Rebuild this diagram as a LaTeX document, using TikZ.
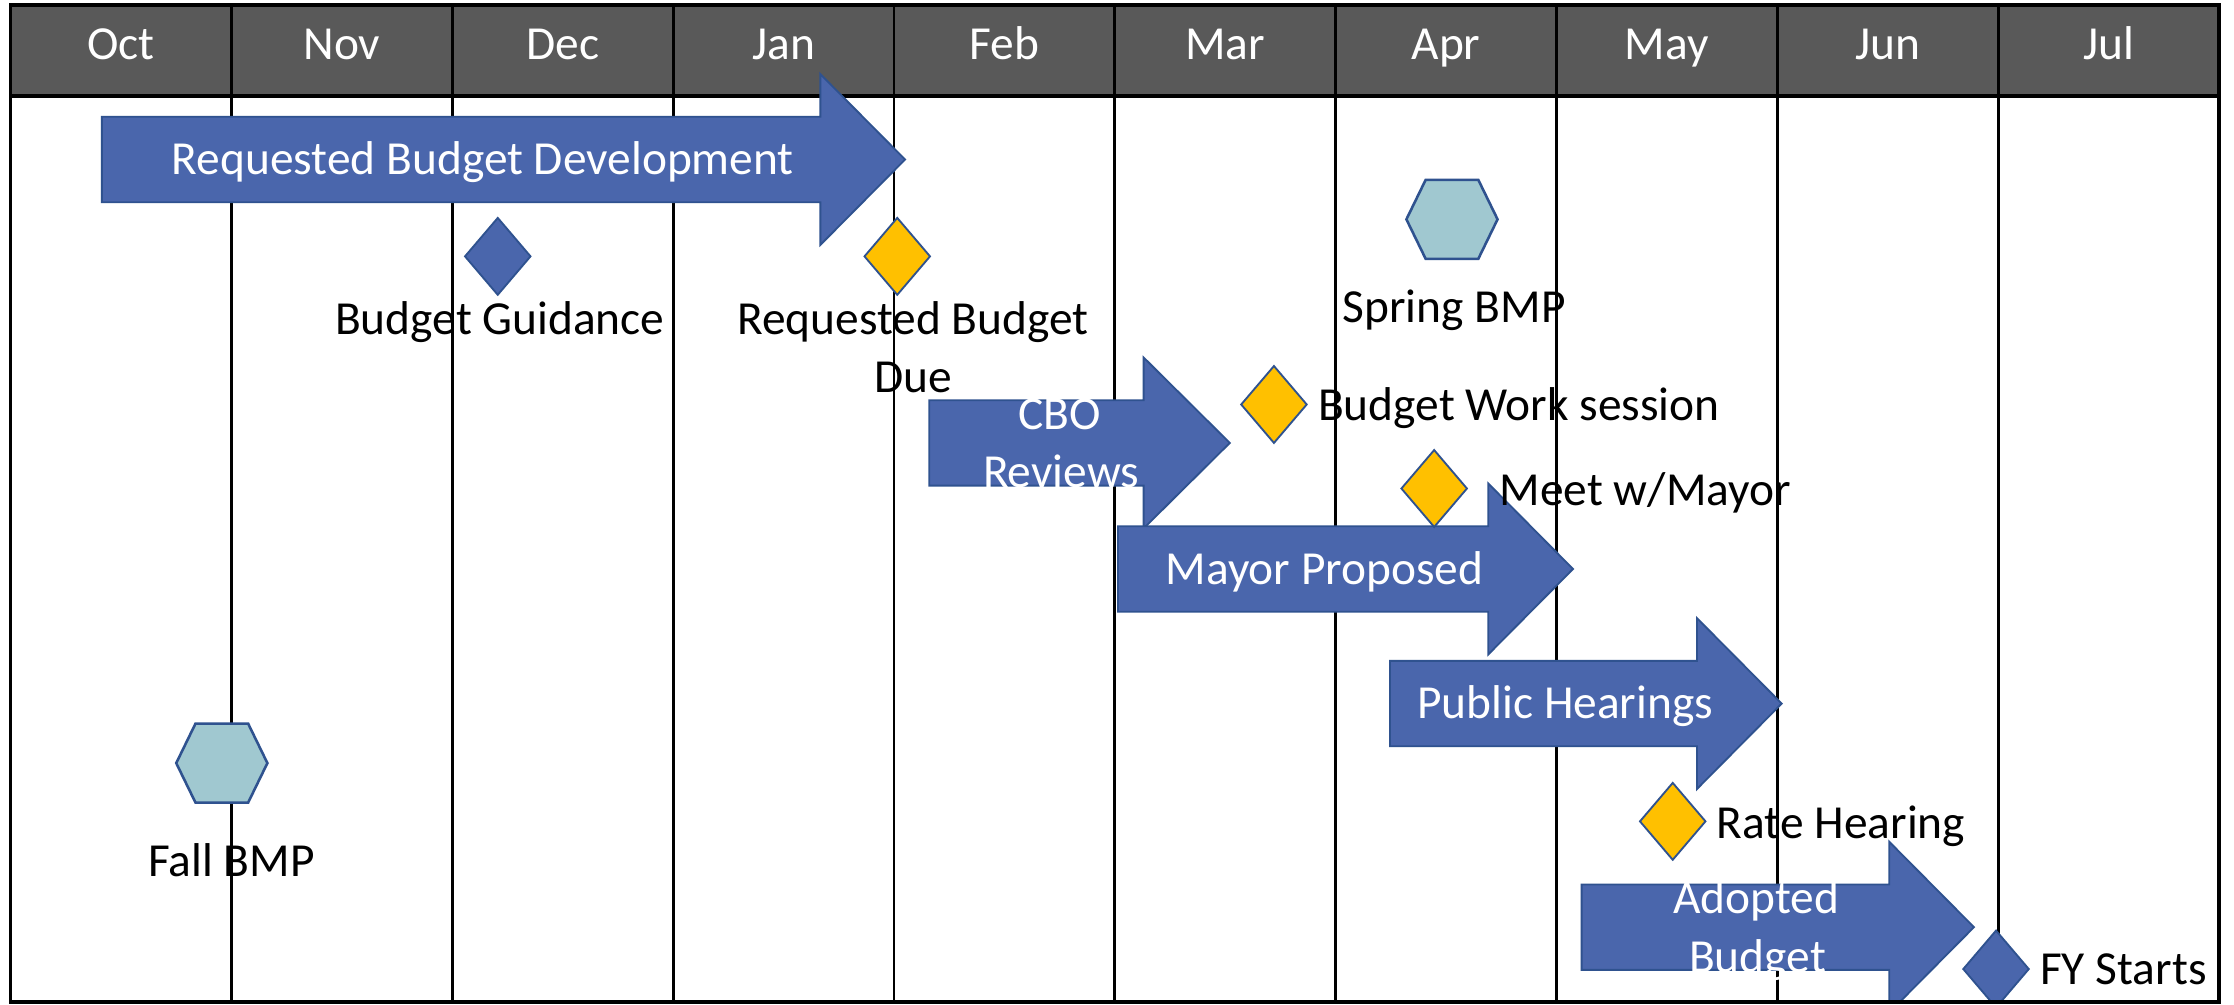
\documentclass[tikz,border=0pt]{standalone}
\usepackage{fontspec}
\setmainfont{Carlito}
\definecolor{hdr}{HTML}{595959}
\definecolor{abl}{HTML}{4A66AC}
\definecolor{aln}{HTML}{2F528F}
\definecolor{ylw}{HTML}{FFC000}
\definecolor{hexc}{HTML}{A0C8D0}
\newcommand\blockarrow[4]{% left, head base, tip, middle y
  \draw[arrowshape] (#1,{#4-30}) -- (#2,{#4-30}) -- (#2,{#4-60}) -- (#3,#4) -- (#2,{#4+60}) -- (#2,{#4+30}) -- (#1,{#4+30}) -- cycle;}
\newcommand\milestone[3]{% x, y, style
  \draw[#3] ({#1-23},#2) -- (#1,{#2-27}) -- ({#1+23},#2) -- (#1,{#2+27}) -- cycle;}
\newcommand\hexmark[2]{%
  \draw[hexshape] ({#1-32},#2) -- ({#1-18.5},{#2-27.7}) -- ({#1+18.5},{#2-27.7}) -- ({#1+32},#2) -- ({#1+18.5},{#2+27.7}) -- ({#1-18.5},{#2+27.7}) -- cycle;}
\tikzset{
  lbl/.style={anchor=base, inner sep=0pt, outer sep=0pt, font=\fontsize{33.3}{40}\selectfont, text=black},
  wlbl/.style={lbl, text=white},
  llbl/.style={lbl, anchor=base west},
  arrowshape/.style={fill=abl, draw=aln, line width=1.3pt, line join=miter},
  bluems/.style={fill=abl, draw=aln, line width=1.3pt},
  yellowms/.style={fill=ylw, draw=aln, line width=1.3pt},
  hexshape/.style={fill=hexc, draw=aln, line width=1.8pt},
  gridline/.style={line width=2pt, black},
  frameline/.style={line width=2.5pt, black}
}
\begin{document}
\begin{tikzpicture}[x=1pt, y=-1pt]
\useasboundingbox (0,0) rectangle (1568.6,704.97);
\fill[white] (0,0) rectangle (1568.6,704.97);
% header
\fill[hdr] (7.5,3.5) rectangle (1558,67.5);
\foreach \i in {1,...,9} \draw[gridline] ({7.5+155.05*\i},3.5) -- ({7.5+155.05*\i},703.5);
\draw[frameline] (7.5,67.5) -- (1558,67.5);
\draw[frameline] (7.5,3.5) rectangle (1558,703.5);
\foreach \m [count=\i] in {Oct,Nov,Dec,Jan,Feb,Mar,Apr,May,Jun,Jul}
  \node[wlbl] (h\i) at ({7.5+155.05*(\i-0.5)},42.1) {\m};
% shapes
\begin{scope}
\clip (7.5,0) rectangle (1558,703.5);
\blockarrow{71.5}{576}{635.5}{112}
\blockarrow{652.5}{803}{863.5}{311}
\blockarrow{785}{1045}{1104.5}{399.5}
\blockarrow{976}{1191.5}{1251}{494}
\blockarrow{1110.5}{1326.5}{1386}{651}
\milestone{349.5}{180}{bluems}
\milestone{630}{180}{yellowms}
\milestone{894.5}{284}{yellowms}
\milestone{1007}{343}{yellowms}
\milestone{1174.5}{576.7}{yellowms}
\milestone{1401.5}{680.4}{bluems}
\hexmark{1019.5}{154}
\hexmark{155.75}{535.8}
\end{scope}
\draw[frameline] (7.5,703.5) -- (1558,703.5);
% arrow texts
\node[wlbl] (rbd) at (339,122.8) {Requested Budget Development};
\node[wlbl] (cbo1) at (744,301.4) {CBO};
\node[wlbl] (cbo2) at (745,342.4) {Reviews};
\node[wlbl] (mp) at (930,410.7) {Mayor Proposed};
\node[wlbl] (ph) at (1099,504.2) {Public Hearings};
\node[wlbl] (ab1) at (1233,641.5) {Adopted};
\node[wlbl] (ab2) at (1234,682.5) {Budget};
% milestone labels
\node[lbl] (bg) at (351,235.1) {Budget Guidance};
\node[lbl] (rbd1) at (641,235.1) {Requested Budget};
\node[lbl] (rbd2) at (641,275.6) {Due};
\node[lbl] (sb) at (1021,226.5) {Spring BMP};
\node[lbl] (fb) at (162.5,615.3) {Fall BMP};
\node[llbl] (bws) at (925.5,295.3) {Budget Work session};
\node[llbl] (mwm) at (1053,355.2) {Meet w/Mayor};
\node[llbl] (rh) at (1205.5,588.4) {Rate Hearing};
\node[llbl] (fy) at (1432.5,691.3) {FY Starts};
\end{tikzpicture}
\end{document}
